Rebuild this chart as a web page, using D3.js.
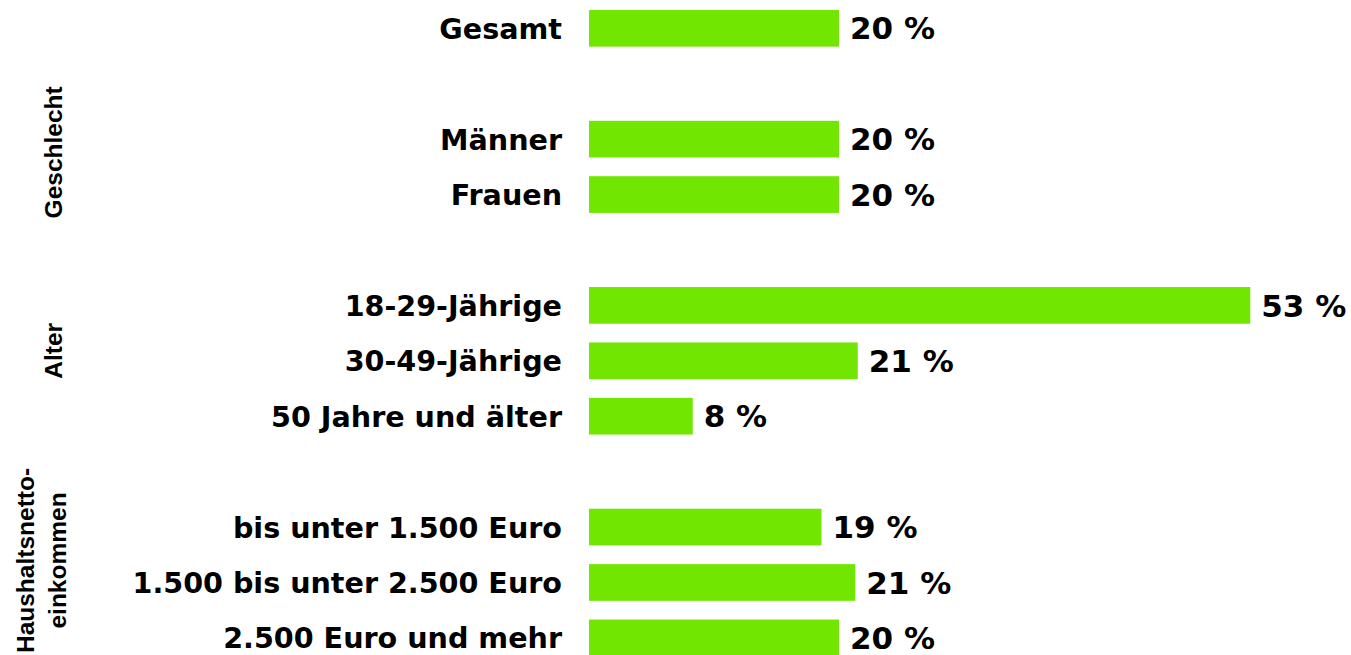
<!DOCTYPE html>
<html>
<head>
<meta charset="utf-8">
<script src="https://cdn.jsdelivr.net/npm/d3@7"></script>
<style>
  html, body { margin: 0; padding: 0; background: #fff; overflow: hidden; }
  svg { display: block; }
</style>
</head>
<body>
<svg id="chart" width="1351" height="655"></svg>
<script>
// rows of the chart, "" marks an empty spacer row between groups
const categories = [
  "Gesamt", "",
  "Männer", "Frauen", "",
  "18-29-Jährige", "30-49-Jährige", "50 Jahre und älter", "",
  "bis unter 1.500 Euro", "1.500 bis unter 2.500 Euro", "2.500 Euro und mehr"
];
const values = [20, null, 20, 20, null, 52.9, 21.5, 8.3, null, 18.6, 21.3, 20];
const valueLabels = ["20 %", "", "20 %", "20 %", "", "53 %", "21 %", "8 %", "", "19 %", "21 %", "20 %"];

const groupNames = [["Geschlecht"], ["Alter"], ["Haushaltsnetto-", "einkommen"]];
const groupRows = [
  ["Männer", "Frauen"],
  ["18-29-Jährige", "30-49-Jährige", "50 Jahre und älter"],
  ["bis unter 1.500 Euro", "1.500 bis unter 2.500 Euro", "2.500 Euro und mehr"]
];

const svg = d3.select("#chart");
const rowKeys = categories.map((c, i) => c || "gap" + i);

const y = d3.scaleBand()
  .domain(rowKeys)
  .range([0.6, 665.6])
  .paddingInner(0.338)
  .paddingOuter(0.169);

const x = d3.scaleLinear().domain([0, 60]).range([589, 1339]);

const rows = categories.map((c, i) => ({ key: rowKeys[i], label: c, value: values[i], text: valueLabels[i] }))
  .filter(d => d.value != null);

const labelFont = "'DejaVu Sans', Verdana, sans-serif";

svg.append("g").selectAll("rect")
  .data(rows)
  .join("rect")
  .attr("x", x(0))
  .attr("y", d => y(d.key))
  .attr("width", d => x(d.value) - x(0))
  .attr("height", y.bandwidth())
  .attr("fill", "#71e600");

svg.append("g").selectAll("text")
  .data(rows)
  .join("text")
  .attr("x", x(0) - 27)
  .attr("y", d => y(d.key) + y.bandwidth() / 2)
  .attr("dy", "0.37em")
  .attr("text-anchor", "end")
  .style("font-family", labelFont)
  .style("font-weight", "bold")
  .style("font-size", "28.6px")
  .text(d => d.label);

svg.append("g").selectAll("text")
  .data(rows)
  .join("text")
  .attr("x", d => x(d.value) + 11)
  .attr("y", d => y(d.key) + y.bandwidth() / 2)
  .attr("dy", "0.36em")
  .style("font-family", labelFont)
  .style("font-weight", "bold")
  .style("font-size", "31px")
  .text(d => d.text);

// rotated group titles on the left
const groupShift = [-14.5, -10, -22];
const groupX = [53, 53, 42];
groupNames.forEach((lines, gi) => {
  const ys = groupRows[gi].map(r => y(r) + y.bandwidth() / 2);
  const cy = d3.mean(ys) + groupShift[gi];
  const t = svg.append("text")
    .attr("transform", `translate(${groupX[gi]},${cy}) rotate(-90)`)
    .attr("text-anchor", "middle")
    .style("font-family", "'Liberation Sans', Arial, sans-serif")
    .style("font-weight", "bold")
    .style("font-size", "24.5px");
  lines.forEach((ln, li) => {
    t.append("tspan")
      .attr("x", 0)
      .attr("dy", lines.length === 1 ? "0.36em" : (li === 0 ? "-0.31em" : "1.3em"))
      .text(ln);
  });
});
</script>
</body>
</html>
